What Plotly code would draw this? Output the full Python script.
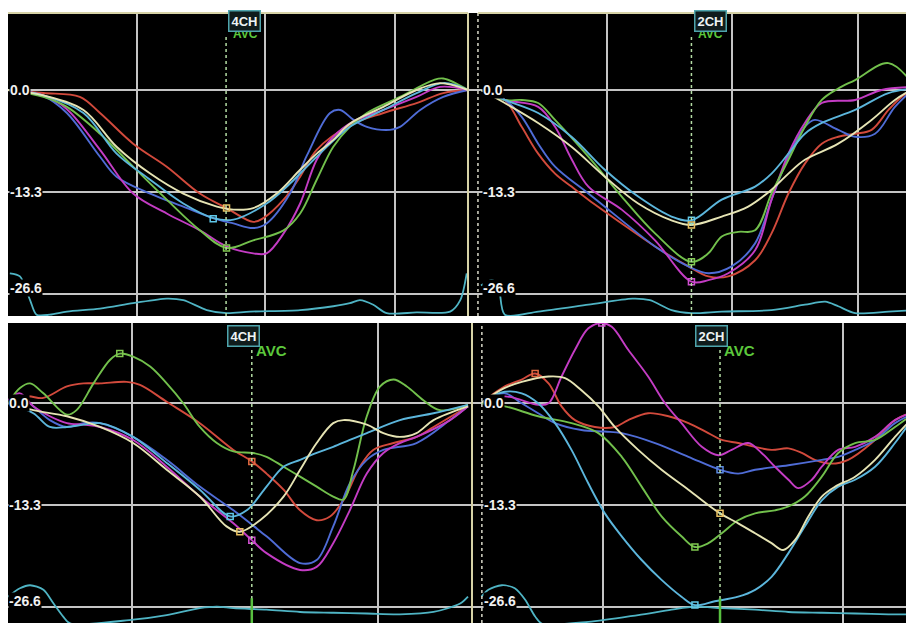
import plotly.graph_objects as go

# ---------------- DATA (time in ms of cycle, strain in %) ----------------
# Top-left panel (4CH)
tl_red_t = [0, 77, 156, 200, 272, 345, 417, 475, 533, 555, 599, 635, 671, 743, 816, 888, 946, 1000]
tl_red_s = [0, -0.4, -0.9, -3.0, -7.0, -10.0, -13.5, -15.4, -17.2, -16.7, -14.3, -11.3, -7.8, -4.6, -3.0, -1.7, -0.4, 0]
tl_blue_t = [0, 77, 128, 200, 236, 309, 381, 446, 490, 533, 562, 613, 650, 700, 722, 751, 780, 830, 852, 896, 946, 1000]
tl_blue_s = [0, -0.8, -3.0, -8.7, -11.3, -13.5, -15.2, -16.7, -17.4, -18.0, -17.4, -13.5, -8.5, -3.0, -2.6, -3.9, -4.8, -5.2, -4.8, -2.6, -0.9, 0]
tl_mag_t = [0, 77, 128, 200, 272, 345, 417, 475, 533, 562, 599, 635, 671, 707, 751, 816, 888, 939, 1000]
tl_mag_s = [0, -0.7, -2.5, -7.8, -13.5, -16.1, -18.3, -20.4, -21.3, -21.3, -18.7, -14.8, -9.1, -6.1, -4.1, -2.6, -0.9, 0.4, 0]
tl_green_t = [0, 77, 128, 200, 272, 345, 417, 475, 533, 599, 635, 671, 707, 743, 780, 852, 925, 946, 1000]
tl_green_s = [0, -0.9, -2.2, -5.7, -10.0, -14.3, -18.3, -20.6, -19.6, -18.3, -16.1, -11.7, -7.4, -4.8, -3.0, -0.9, 1.3, 1.5, 0]
tl_yel_t = [0, 77, 164, 236, 309, 381, 454, 490, 533, 584, 635, 671, 707, 743, 816, 888, 939, 1000]
tl_yel_s = [0, -0.7, -2.6, -7.4, -10.9, -13.5, -15.2, -15.6, -15.4, -13.5, -10.4, -8.3, -6.5, -4.4, -2.2, 0, 0.9, 0]
tl_cyan_t = [0, 77, 164, 236, 309, 381, 446, 490, 562, 613, 671, 743, 816, 888, 946, 1000]
tl_cyan_s = [0, -0.7, -3.0, -8.3, -11.7, -14.8, -16.7, -16.9, -14.8, -12.2, -8.7, -4.8, -2.6, -0.4, 0.9, 0]
tl_ecg_t = [4, 26, 48, 62, 91, 128, 200, 272, 345, 381, 432, 475, 526, 635, 707, 743, 765, 794, 823, 888, 961, 983, 997]
tl_ecg_s = [-23.9, -24.3, -27.4, -29.3, -29.3, -28.9, -28.5, -27.8, -27.2, -27.4, -28.7, -29.1, -28.9, -28.7, -28.2, -27.8, -27.4, -28.0, -29.1, -29.0, -28.9, -27.4, -23.9]

# Top-right panel (2CH)
tr_red_t = [0, 55, 94, 132, 171, 209, 248, 325, 402, 479, 525, 571, 633, 671, 710, 748, 787, 825, 864, 902, 941, 971, 1000]
tr_red_s = [0, -1.3, -4.8, -8.3, -10.9, -12.6, -14.3, -17.4, -20.4, -23.0, -24.3, -24.3, -22.2, -18.7, -13.5, -9.6, -7.0, -6.1, -5.7, -5.2, -2.6, -0.9, 0.2]
tr_blue_t = [0, 55, 94, 132, 171, 248, 325, 402, 479, 525, 579, 633, 671, 710, 748, 771, 825, 864, 910, 956, 1000]
tr_blue_s = [0, -1.3, -3.5, -7.0, -10.0, -13.5, -17.0, -20.4, -23.0, -23.9, -23.0, -20.0, -14.3, -8.7, -4.8, -3.9, -5.2, -6.1, -5.7, -2.2, 0.2]
tr_mag_t = [0, 55, 132, 171, 209, 248, 325, 402, 486, 525, 571, 633, 671, 710, 748, 787, 864, 925, 1000]
tr_mag_s = [0, -1.3, -2.2, -4.8, -9.0, -12.6, -15.6, -19.6, -25.0, -24.8, -23.9, -20.9, -14.3, -8.3, -4.3, -1.7, -1.3, 0, 0.4]
tr_green_t = [0, 55, 94, 132, 171, 248, 325, 402, 486, 525, 556, 594, 633, 671, 710, 748, 787, 825, 864, 941, 1000]
tr_green_s = [0, -1.3, -1.3, -1.7, -3.9, -8.7, -13.9, -18.7, -22.4, -21.3, -19.1, -18.5, -18.3, -13.5, -9.1, -4.8, -1.3, 0.2, 1.3, 3.5, 0.6]
tr_yel_t = [0, 55, 132, 209, 286, 363, 440, 486, 556, 617, 671, 710, 748, 825, 902, 956, 1000]
tr_yel_s = [0, -1.7, -4.3, -7.4, -11.3, -14.8, -17.0, -17.6, -16.5, -15.2, -13.0, -10.9, -9.1, -7.0, -3.9, -1.3, 0.2]
tr_cyan_t = [0, 55, 132, 209, 286, 363, 440, 486, 556, 633, 671, 710, 748, 787, 864, 941, 1000]
tr_cyan_s = [0, -1.3, -3.0, -6.1, -10.4, -13.9, -16.5, -17.0, -14.3, -12.6, -10.9, -8.3, -5.7, -4.3, -2.6, -0.4, 0.2]
tr_ecg_t = [0, 25, 40, 55, 132, 248, 350, 390, 440, 486, 556, 671, 748, 795, 825, 864, 941, 1000]
tr_ecg_s = [-25.5, -24.8, -25.5, -29.3, -28.9, -28.0, -27.2, -27.4, -28.7, -29.1, -28.9, -28.7, -28.0, -27.6, -28.2, -29.1, -28.9, -28.7]

# Bottom-left panel (4CH)
bl_red_t = [0, 41, 77, 128, 164, 200, 258, 287, 345, 417, 490, 530, 562, 599, 635, 671, 700, 729, 765, 794, 838, 888, 925, 1000]
bl_red_s = [0, 0.9, 0.7, 2.2, 2.6, 2.6, 2.8, 2.4, 0.2, -2.6, -6.1, -7.6, -9.2, -11.3, -14.0, -15.3, -14.8, -12.7, -8.3, -6.1, -5.2, -4.4, -3.1, -0.4]
bl_blue_t = [0, 26, 55, 91, 128, 164, 200, 272, 345, 417, 490, 562, 635, 671, 707, 743, 780, 816, 888, 961, 1000]
bl_blue_s = [0, 0.9, -0.4, -2.2, -3.1, -2.6, -2.6, -4.4, -7.4, -10.9, -14.0, -17.4, -20.9, -20.5, -16.1, -10.5, -7.4, -6.1, -5.2, -2.2, -0.4]
bl_mag_t = [0, 26, 55, 91, 128, 164, 200, 272, 345, 417, 490, 530, 562, 635, 671, 707, 743, 780, 816, 852, 888, 961, 1000]
bl_mag_s = [0.4, 1.3, -0.4, -1.7, -2.6, -2.8, -3.1, -4.8, -8.3, -12.2, -15.7, -17.9, -19.6, -21.8, -21.4, -18.3, -14.0, -9.2, -6.5, -5.2, -4.4, -2.2, -0.4]
bl_green_t = [0, 26, 48, 77, 128, 149, 186, 222, 243, 272, 309, 345, 381, 417, 454, 490, 533, 562, 599, 635, 671, 707, 729, 751, 780, 809, 838, 867, 903, 939, 1000]
bl_green_s = [0, 2.0, 2.6, 1.3, -1.5, -0.9, 2.6, 5.7, 6.5, 6.1, 4.8, 2.6, 0, -3.1, -5.2, -6.3, -6.5, -7.0, -8.3, -9.6, -10.9, -12.2, -12.6, -8.7, -1.7, 2.2, 3.1, 2.2, 0.4, -0.9, -0.2]
bl_yel_t = [0, 55, 128, 200, 272, 345, 417, 475, 504, 548, 599, 635, 671, 707, 729, 780, 816, 852, 888, 925, 1000]
bl_yel_s = [0, -0.9, -1.7, -3.1, -5.2, -8.7, -12.2, -16.1, -16.8, -15.3, -12.2, -8.7, -5.2, -2.6, -2.2, -2.8, -3.9, -4.4, -3.9, -2.2, -0.4]
bl_cyan_t = [0, 55, 91, 128, 164, 200, 272, 345, 417, 483, 519, 562, 599, 635, 671, 707, 743, 780, 852, 925, 1000]
bl_cyan_s = [0, -1.3, -3.1, -3.1, -2.8, -2.6, -4.4, -7.8, -11.3, -14.8, -14.0, -10.9, -8.3, -7.4, -6.5, -5.7, -4.8, -3.9, -2.2, -1.3, -0.2]
bl_ecg_t = [0, 26, 48, 77, 99, 120, 135, 272, 345, 417, 454, 490, 562, 635, 707, 780, 852, 925, 983, 1000]
bl_ecg_s = [-25.3, -24.2, -23.8, -24.4, -26.2, -27.9, -28.8, -28.3, -27.7, -26.8, -26.6, -26.8, -27.0, -27.3, -27.4, -27.5, -27.6, -27.3, -26.2, -25.3]

# Bottom-right panel (2CH)
br_red_t = [0, 9, 55, 94, 125, 156, 186, 217, 263, 309, 340, 386, 433, 479, 525, 556, 594, 633, 671, 710, 741, 771, 810, 848, 902, 956, 1000]
br_red_s = [0, 0.4, 2.2, 3.1, 3.9, 2.6, -0.4, -2.2, -3.1, -3.1, -2.2, -1.3, -1.7, -2.6, -3.9, -4.8, -5.2, -5.7, -6.1, -5.9, -6.5, -7.4, -7.9, -7.4, -5.2, -2.2, -1.1]
br_blue_t = [0, 9, 55, 94, 132, 171, 232, 286, 325, 402, 479, 552, 594, 633, 710, 787, 825, 864, 910, 956, 1000]
br_blue_s = [0, 0.4, 1.3, 0, -1.3, -2.6, -3.5, -3.7, -3.9, -5.2, -7.0, -8.7, -9.2, -8.7, -8.1, -7.4, -7.0, -6.1, -4.8, -2.6, -1.3]
br_mag_t = [0, 55, 132, 156, 186, 217, 248, 279, 302, 340, 386, 425, 463, 510, 548, 579, 617, 648, 679, 710, 733, 764, 787, 825, 864, 910, 956, 1000]
br_mag_s = [0, 0.9, -0.2, 0, 3.5, 7.0, 9.8, 10.5, 10.0, 7.0, 3.5, 0, -2.6, -5.7, -6.8, -6.1, -5.2, -6.5, -8.3, -10.0, -11.1, -10.0, -8.3, -6.1, -5.7, -4.4, -2.2, -1.1]
br_green_t = [0, 55, 132, 209, 271, 325, 371, 417, 463, 494, 525, 556, 594, 633, 679, 710, 748, 787, 825, 864, 910, 956, 1000]
br_green_s = [0, -0.4, -1.7, -2.6, -3.9, -7.0, -10.9, -14.8, -17.4, -18.8, -18.3, -17.0, -15.3, -14.4, -14.0, -13.5, -12.2, -9.6, -6.5, -5.2, -4.8, -3.1, -1.3]
br_yel_t = [0, 9, 55, 94, 156, 194, 232, 271, 309, 363, 417, 479, 552, 594, 633, 671, 698, 725, 756, 787, 818, 864, 910, 956, 1000]
br_yel_s = [0, 0.4, 2.0, 2.8, 3.5, 3.3, 1.7, -0.4, -3.1, -6.1, -8.7, -11.3, -14.4, -15.7, -17.0, -18.3, -19.2, -17.9, -14.8, -12.2, -10.9, -9.6, -7.4, -4.4, -1.7]
br_cyan_t = [0, 9, 55, 94, 132, 171, 209, 248, 286, 325, 371, 417, 463, 494, 540, 594, 633, 671, 710, 748, 787, 825, 864, 910, 956, 1000]
br_cyan_s = [0, 0.4, 1.5, 1.3, 0, -2.6, -6.1, -10.5, -14.4, -17.4, -20.5, -23.1, -25.3, -26.4, -25.9, -25.3, -24.4, -22.7, -19.6, -16.1, -12.7, -10.9, -10.0, -8.3, -5.2, -1.7]
br_ecg_t = [1, 17, 48, 78, 102, 125, 140, 248, 363, 440, 494, 556, 633, 710, 787, 864, 941, 1000]
br_ecg_s = [-25.3, -24.4, -23.8, -24.2, -25.7, -27.9, -28.8, -28.6, -27.7, -27.0, -26.6, -26.8, -27.0, -27.3, -27.4, -27.5, -27.6, -27.6]

# Markers at aortic valve closure (AVC): (segment, time, strain)
tl_marks = [("yel", 475, -15.4), ("cyan", 446, -16.8), ("green", 475, -20.6)]
tr_marks = [("cyan", 486, -17.0), ("yel", 486, -17.6), ("green", 486, -22.4), ("mag", 486, -25.0)]
bl_marks = [("green", 243, 6.5), ("red", 530, -7.6), ("cyan", 483, -14.8), ("yel", 504, -16.8), ("mag", 530, -17.9)]
br_marks = [("red", 125, 3.9), ("mag", 279, 10.5), ("blue", 552, -8.7), ("yel", 552, -14.4), ("green", 494, -18.8), ("cyan", 494, -26.4)]

view_labels = ["4CH", "2CH", "4CH", "2CH"]
avc_times = [474, 486, 530, 552]
x_grid_ticks = [[280, 559, 841], [290, 579, 871], [269, 805], [282, 837]]
y_tick_vals = [0.0, -13.3, -26.6]
y_tick_text = ["0.0", "-13.3", "-26.6"]

# ---------------- STYLE / LAYOUT ----------------
FIG_W, FIG_H = 906, 615   # page has an 8px body margin


def px2x(px):
    return (px - 8) / FIG_W


def py2y(py):
    return 1 - (py - 8) / FIG_H


COL = {"red": "#d24a3c", "blue": "#4f6cd6", "mag": "#c43cc4", "green": "#72c04c",
       "yel": "#e6e4b4", "cyan": "#5cb6dc", "ecg": "#4fb4c4"}
MARK_COL = {"red": "#e06a40", "blue": "#5a8ae0", "mag": "#d050d0", "green": "#80c850",
            "yel": "#e8c060", "cyan": "#60c8e8"}

panels = [
    dict(curves={"red": (tl_red_t, tl_red_s), "blue": (tl_blue_t, tl_blue_s), "mag": (tl_mag_t, tl_mag_s),
                 "green": (tl_green_t, tl_green_s), "cyan": (tl_cyan_t, tl_cyan_s), "yel": (tl_yel_t, tl_yel_s)},
         ecg=(tl_ecg_t, tl_ecg_s), marks=tl_marks,
         xd=[px2x(8), px2x(469)], yd=[py2y(316), py2y(13)], xr=[0, 1002], yr=[-29.47, 10.04],
         box_x=513, box_py=21, avc_x=517, avc_py=34, avc_size=12, lab_x=2, dotted_x=None),
    dict(curves={"red": (tr_red_t, tr_red_s), "blue": (tr_blue_t, tr_blue_s), "mag": (tr_mag_t, tr_mag_s),
                 "green": (tr_green_t, tr_green_s), "cyan": (tr_cyan_t, tr_cyan_s), "yel": (tr_yel_t, tr_yel_s)},
         ecg=(tr_ecg_t, tr_ecg_s), marks=tr_marks,
         xd=[px2x(469), 1.0], yd=[py2y(316), py2y(13)], xr=[-27.7, 1000], yr=[-29.47, 10.04],
         box_x=529, box_py=21, avc_x=531, avc_py=34, avc_size=12, lab_x=2, dotted_x=-7),
    dict(curves={"red": (bl_red_t, bl_red_s), "blue": (bl_blue_t, bl_blue_s), "mag": (bl_mag_t, bl_mag_s),
                 "green": (bl_green_t, bl_green_s), "cyan": (bl_cyan_t, bl_cyan_s), "yel": (bl_yel_t, bl_yel_s)},
         ecg=(bl_ecg_t, bl_ecg_s), marks=bl_marks,
         xd=[px2x(8), px2x(472)], yd=[0.0, py2y(323)], xr=[0, 1008.7], yr=[-28.74, 10.5],
         box_x=512, box_py=336, avc_x=572, avc_py=350, avc_size=15, lab_x=0, dotted_x=None),
    dict(curves={"red": (br_red_t, br_red_s), "blue": (br_blue_t, br_blue_s), "mag": (br_mag_t, br_mag_s),
                 "green": (br_green_t, br_green_s), "cyan": (br_cyan_t, br_cyan_s), "yel": (br_yel_t, br_yel_s)},
         ecg=(br_ecg_t, br_ecg_s), marks=br_marks,
         xd=[px2x(472), 1.0], yd=[0.0, py2y(323)], xr=[-20.8, 1000], yr=[-28.74, 10.5],
         box_x=533, box_py=336, avc_x=598, avc_py=350, avc_size=15, lab_x=5, dotted_x=2),
]

fig = go.Figure()
shapes = []
annotations = []
layout_axes = {}

for i, p in enumerate(panels):
    n = i + 1
    xa = "x" if n == 1 else f"x{n}"
    ya = "y" if n == 1 else f"y{n}"
    xkey = "xaxis" if n == 1 else f"xaxis{n}"
    ykey = "yaxis" if n == 1 else f"yaxis{n}"
    layout_axes[xkey] = dict(domain=p["xd"], range=p["xr"], anchor=ya, showticklabels=False,
                             tickvals=x_grid_ticks[i], showgrid=True, gridcolor="#c4c4c4", gridwidth=2,
                             zeroline=False, showline=False, ticks="", fixedrange=True)
    layout_axes[ykey] = dict(domain=p["yd"], range=p["yr"], anchor=xa, showticklabels=False,
                             tickvals=y_tick_vals, showgrid=True, gridcolor="#c4c4c4", gridwidth=2,
                             zeroline=False, showline=False, ticks="", fixedrange=True)

    # AVC dotted line
    shapes.append(dict(type="line", xref=xa, yref=f"{ya} domain", x0=avc_times[i], x1=avc_times[i],
                       y0=0, y1=0.93, line=dict(color="#b4dca4", width=1.5, dash="dot"), layer="above"))
    if i >= 2:
        shapes.append(dict(type="line", xref=xa, yref=ya, x0=avc_times[i], x1=avc_times[i],
                           y0=p["yr"][0], y1=-25.5, line=dict(color="#58c040", width=2.5), layer="above"))
    if p["dotted_x"] is not None:
        shapes.append(dict(type="line", xref=xa, yref=f"{ya} domain", x0=p["dotted_x"], x1=p["dotted_x"],
                           y0=0, y1=1, line=dict(color="#d8d8c8", width=1.5, dash="dot"), layer="above"))

    # ECG-like trace at bottom
    fig.add_trace(go.Scatter(x=p["ecg"][0], y=p["ecg"][1], xaxis=xa, yaxis=ya, mode="lines",
                             line=dict(color=COL["ecg"], width=1.8, shape="spline", smoothing=0.8),
                             showlegend=False, hoverinfo="skip"))
    for key in ["red", "blue", "mag", "green", "cyan", "yel"]:
        t, s = p["curves"][key]
        fig.add_trace(go.Scatter(x=t, y=s, xaxis=xa, yaxis=ya, mode="lines",
                                 line=dict(color=COL[key], width=1.9, shape="spline", smoothing=1.0),
                                 showlegend=False, hoverinfo="skip"))
    for key, t, s in p["marks"]:
        fig.add_trace(go.Scatter(x=[t], y=[s], xaxis=xa, yaxis=ya, mode="markers",
                                 marker=dict(symbol="square-open", size=6, color=MARK_COL[key],
                                             line=dict(width=1.5, color=MARK_COL[key])),
                                 showlegend=False, hoverinfo="skip"))

    # y tick labels drawn inside the panel
    for v, txt in zip(y_tick_vals, y_tick_text):
        yy = v + 0.8 if v < -20 else v
        annotations.append(dict(x=p["lab_x"], y=yy, xref=xa, yref=ya, text=f"<b>{txt}</b>",
                                showarrow=False, xanchor="left", yanchor="middle",
                                font=dict(family="Liberation Sans, Arial", size=14, color="#f0f0f0"),
                                bgcolor="#000000", borderpad=0))
    # AVC text and view box
    annotations.append(dict(x=p["avc_x"], y=py2y(p["avc_py"]), xref=xa, yref="paper", text="<b>AVC</b>",
                            showarrow=False, xanchor="center", yanchor="middle",
                            font=dict(family="Liberation Sans, Arial", size=p["avc_size"], color="#5cc83c")))
    annotations.append(dict(x=p["box_x"], y=py2y(p["box_py"]), xref=xa, yref="paper",
                            text=f"<b>{view_labels[i]}</b>", showarrow=False, xanchor="center", yanchor="middle",
                            font=dict(family="Liberation Sans, Arial", size=13, color="#eef4f4"),
                            bgcolor="#101c1c", bordercolor="#4ea4ac", borderwidth=1.5, borderpad=2))

# Panel borders (beige frame lines)
border = dict(color="#d6d2a6", width=2)
shapes += [
    dict(type="line", xref="paper", yref="paper", x0=px2x(8), x1=px2x(468), y0=py2y(13), y1=py2y(13), line=border, layer="above"),
    dict(type="line", xref="paper", yref="paper", x0=px2x(478), x1=1, y0=py2y(13), y1=py2y(13), line=border, layer="above"),
    dict(type="line", xref="paper", yref="paper", x0=px2x(468), x1=px2x(468), y0=py2y(316), y1=py2y(13), line=border, layer="above"),
    dict(type="line", xref="paper", yref="paper", x0=px2x(472), x1=px2x(472), y0=0, y1=py2y(323), line=border, layer="above"),
]

fig.update_layout(
    width=FIG_W, height=FIG_H, margin=dict(l=0, r=0, t=0, b=0),
    paper_bgcolor="#ffffff", plot_bgcolor="#000000",
    shapes=shapes, annotations=annotations, showlegend=False, **layout_axes,
)

fig.write_html("out.html")
